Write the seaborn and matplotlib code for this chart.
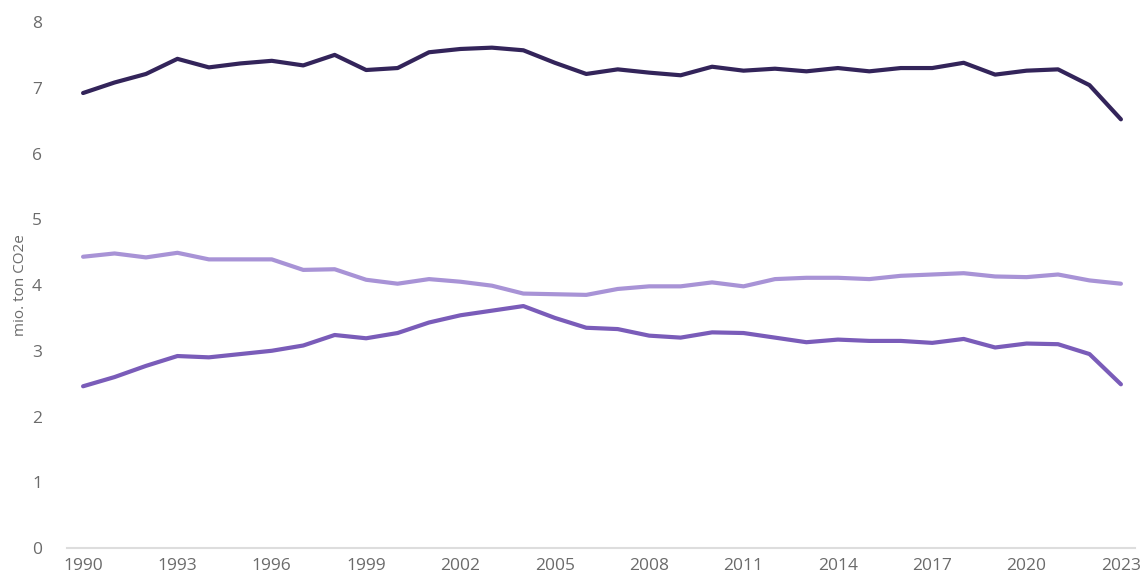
import pandas as pd
import numpy as np
import seaborn as sns
import matplotlib.pyplot as plt

# === Datos ===
years = list(range(1990, 2024))

total = [6.92, 7.08, 7.21, 7.44, 7.31, 7.37, 7.41, 7.34, 7.50, 7.27,
         7.30, 7.54, 7.59, 7.61, 7.57, 7.38, 7.21, 7.28, 7.23, 7.19,
         7.32, 7.26, 7.29, 7.25, 7.30, 7.25, 7.30, 7.30, 7.38, 7.20,
         7.26, 7.28, 7.04, 6.52]

upper = [4.43, 4.48, 4.42, 4.49, 4.39, 4.39, 4.39, 4.23, 4.24, 4.08,
         4.02, 4.09, 4.05, 3.99, 3.87, 3.86, 3.85, 3.94, 3.98, 3.98,
         4.04, 3.98, 4.09, 4.11, 4.11, 4.09, 4.14, 4.16, 4.18, 4.13,
         4.12, 4.16, 4.07, 4.02]

lower = [2.46, 2.60, 2.77, 2.92, 2.90, 2.95, 3.00, 3.08, 3.24, 3.19,
         3.27, 3.43, 3.54, 3.61, 3.68, 3.50, 3.35, 3.33, 3.23, 3.20,
         3.28, 3.27, 3.20, 3.13, 3.17, 3.15, 3.15, 3.12, 3.18, 3.05,
         3.11, 3.10, 2.95, 2.49]

series_names = ['total', 'upper', 'lower']
colors = ['#33245a', '#a893d6', '#7a5cb9']

df = pd.DataFrame({'year': years, 'total': total, 'upper': upper, 'lower': lower})
df_long = df.melt(id_vars='year', var_name='serie', value_name='valor')

# === Gráfico ===
sns.set_style('white')
plt.rcParams['font.family'] = ['Open Sans', 'DejaVu Sans']

fig = plt.figure(figsize=(11.44, 5.84), dpi=100)
ax = fig.add_axes([0.0586, 0.0616, 0.9336, 0.9007])

sns.lineplot(data=df_long, x='year', y='valor', hue='serie', hue_order=series_names,
             palette=dict(zip(series_names, colors)), linewidth=3, legend=False,
             ax=ax, clip_on=False)

ax.set_xlim(1989.49, 2023.45)
ax.set_ylim(0, 8)
ax.set_xticks(years[::3])
ax.set_yticks(range(0, 9))
ax.tick_params(axis='both', length=0, labelsize=12.5, labelcolor='#6b6b6b')
ax.tick_params(axis='x', pad=7)
ax.tick_params(axis='y', pad=18)
ax.set_xlabel('')
ax.set_ylabel('mio. ton CO2e', fontsize=11, color='#6b6b6b', labelpad=3)

for side in ['top', 'right', 'left']:
    ax.spines[side].set_visible(False)
ax.spines['bottom'].set_color('#dddddd')
ax.spines['bottom'].set_linewidth(1.5)
ax.grid(False)

plt.savefig('out.png', dpi=100)
